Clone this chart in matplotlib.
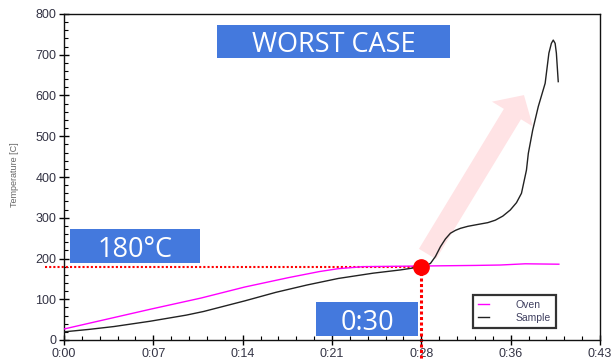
import matplotlib
matplotlib.use("Agg")
import matplotlib.pyplot as plt
from matplotlib.patches import Rectangle
from matplotlib.ticker import AutoMinorLocator

# oven set-point trace (minutes, degC)
oven_t = [0, 3, 7, 11, 14.5, 18, 20.5, 22, 24, 27, 30, 33, 35, 37, 39.7]
oven_c = [27, 48, 76, 103, 130, 153, 168, 175, 180, 181, 182, 183, 184, 187, 186]

# sample thermocouple trace (minutes, degC)
sample_t = [0, 2, 4, 6.9, 9.8, 11.2, 14.5, 17, 19.5, 22, 24.8, 27, 28.7,
            29.0, 29.4, 29.8, 30.2, 30.6, 31, 31.4, 31.8, 32.4, 33.1, 34.0,
            34.6, 35.2, 35.8, 36.3, 36.7, 37.1, 37.25, 37.6, 38.05, 38.6,
            38.9, 39.1, 39.25, 39.4, 39.5, 39.65]
sample_c = [20, 26, 33, 46, 61, 70, 96, 117, 135, 151, 164, 172, 180,
            182, 188, 205, 229, 248, 262, 269, 274, 279, 283, 288,
            294, 304, 319, 337, 360, 417, 458, 515, 573, 630,
            704, 728, 736, 728, 704, 634]

# time axis labels
tick_pos = [0, 43 / 6, 43 / 3, 21.5, 86 / 3, 215 / 6, 43]
tick_lbl = ["0:00", "0:07", "0:14", "0:21", "0:28", "0:36", "0:43"]

limit_c = 180      # critical temperature
cross_t = 86 / 3   # time the sample reaches it
arrow_tail = (29.16, 211)
arrow_tip = (36.9, 601)

BLUE = "#4479DD"
TICK_COL = "#333344"

fig = plt.figure(figsize=(6.14, 3.6), dpi=100)
ax = fig.add_axes([64 / 614, 20 / 360, 536 / 614, 326 / 360])

ax.annotate("", xy=arrow_tip, xytext=arrow_tail,
            arrowprops=dict(arrowstyle="simple,head_length=1.6,head_width=3.45,tail_width=1.44",
                            mutation_scale=10, fc="#FFE3E5", ec="none",
                            shrinkA=0, shrinkB=0), zorder=1)

ax.plot(oven_t, oven_c, color="#FF00FF", lw=1.0, label="Oven", zorder=3)
ax.plot(sample_t, sample_c, color="#222222", lw=1.0, label="Sample", zorder=3)

# threshold guides
ax.plot([-1.5, cross_t], [limit_c, limit_c], color="#FF0000", lw=1.5,
        ls=(0, (1, 1)), clip_on=False, zorder=2)
ax.plot([cross_t, cross_t], [limit_c, -50], color="#FF0000", lw=2.2,
        ls=(0, (1, 0.8)), clip_on=False, zorder=2)
ax.plot([cross_t], [limit_c], "o", color="#FF0000", ms=11, zorder=5)

ax.set_xlim(0, 43)
ax.set_ylim(0, 800)
ax.set_xticks(tick_pos)
ax.set_xticklabels(tick_lbl)
ax.set_yticks(range(0, 801, 100))
ax.xaxis.set_minor_locator(AutoMinorLocator(5))
ax.yaxis.set_minor_locator(AutoMinorLocator(5))
ax.tick_params(which="major", direction="inout", length=7, width=1,
               labelsize=9, labelcolor=TICK_COL, pad=2)
ax.tick_params(which="minor", direction="in", length=3, width=0.8)
for lbl in ax.get_xticklabels() + ax.get_yticklabels():
    lbl.set_fontfamily("Liberation Sans")
for sp in ax.spines.values():
    sp.set_linewidth(1.0)
    sp.set_color("#111111")

ax.set_ylabel("Temperature [C]", fontsize=6.5, color="#666666",
              fontfamily="Liberation Sans")
ax.yaxis.set_label_coords(-0.084, 0.506)

leg = ax.legend(loc="lower left", bbox_to_anchor=(0.763, 0.037),
                frameon=True, fancybox=False, handlelength=1.0,
                borderpad=0.5, labelspacing=0.25, handletextpad=2.6,
                borderaxespad=0, prop={"family": "Liberation Sans", "size": 7.5})
leg.get_frame().set_edgecolor("black")
leg.get_frame().set_linewidth(1.6)
for txt in leg.get_texts():
    txt.set_color("#404060")

# callout boxes
boxes = [
    ((0.285, 0.866), 0.435, 0.100, "WORST CASE", 19.5),
    ((0.0112, 0.237), 0.2425, 0.1026, "180°C", 19.5),
    ((0.470, 0.0132), 0.191, 0.1024, "0:30", 19.5),
]
for (x0, y0), w, h, s, fs in boxes:
    ax.add_patch(Rectangle((x0, y0), w, h, transform=ax.transAxes,
                           fc=BLUE, ec="none", zorder=6, clip_on=False))
    ax.text(x0 + w / 2, y0 + h / 2, s, transform=ax.transAxes, ha="center",
            va="center_baseline", color="white", fontsize=fs,
            fontfamily="Open Sans", zorder=7)

fig.savefig("out.png", dpi=100)
